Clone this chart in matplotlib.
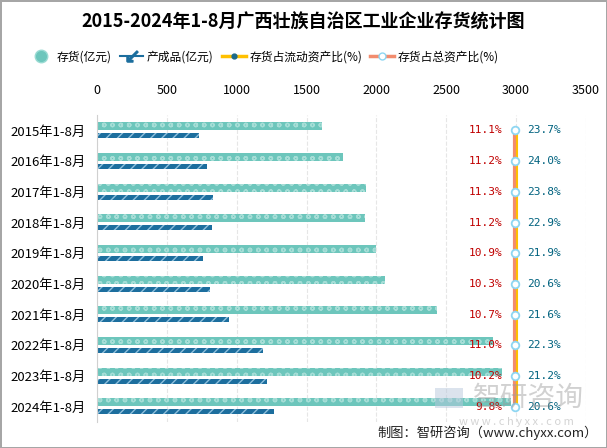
import numpy as np
import matplotlib.pyplot as plt
from matplotlib.lines import Line2D
from matplotlib.patches import Rectangle
import matplotlib.transforms as mtransforms

plt.rcParams['font.family'] = ['Noto Sans CJK SC', 'DejaVu Sans']

years = ['2015年1-8月', '2016年1-8月', '2017年1-8月', '2018年1-8月', '2019年1-8月',
         '2020年1-8月', '2021年1-8月', '2022年1-8月', '2023年1-8月', '2024年1-8月']
inventory = [1614, 1764, 1929, 1921, 2000, 2064, 2436, 2836, 2900, 2964]
finished = [729, 786, 829, 821, 757, 807, 943, 1186, 1214, 1264]
pct_current = [11.1, 11.2, 11.3, 11.2, 10.9, 10.3, 10.7, 11.0, 10.2, 9.8]
pct_total = [23.7, 24.0, 23.8, 22.9, 21.9, 20.6, 21.6, 22.3, 21.2, 20.6]

c_inv = '#6DC6BC'
c_fin = '#1C6E9E'
c_cur = '#FFC000'
c_tot = '#F28C6E'

fig = plt.figure(figsize=(6.07, 4.48), dpi=100)
fig.patch.set_edgecolor('#A6A6A6')
fig.patch.set_linewidth(2)
ax = fig.add_axes([0.16, 0.058, 0.805, 0.685])

y = np.arange(len(years))
ax.barh(y - 0.14, inventory, height=0.26, color=c_inv, edgecolor='#A5DDD6',
        hatch='oo', linewidth=0)
ax.barh(y + 0.17, finished, height=0.16, color=c_fin, edgecolor='#8FC0DD',
        hatch='///', linewidth=0)

ax.set_xlim(0, 3500)
ax.set_ylim(9.5, -0.5)
ax.set_xticks(np.arange(0, 3501, 500))
ax.xaxis.tick_top()
ax.tick_params(axis='x', length=0, labelsize=9, pad=13)
ax.tick_params(axis='y', length=0, labelsize=9.5, pad=8)
ax.set_yticks(y)
ax.set_yticklabels(years)
ax.grid(axis='x', color='#E6E6E6', linestyle='--', linewidth=0.8)
ax.set_axisbelow(True)
for s in ['top', 'right', 'bottom']:
    ax.spines[s].set_visible(False)
ax.spines['left'].set_color('#D0D0D0')

# percentage lines sit at a fixed horizontal position
trans = mtransforms.blended_transform_factory(ax.transAxes, ax.transData)
xl = 0.855
ax.plot([xl] * len(y), y, color=c_tot, lw=3, transform=trans, zorder=3)
ax.plot([xl + 0.004] * len(y), y, color=c_cur, lw=1.5, transform=trans, zorder=3)
ax.plot([xl + 0.002] * len(y), y, 'o', ms=3, color='#1C6A8A', transform=trans, zorder=4)
ax.plot([xl] * len(y), y, 'o', ms=5.5, mfc='white', mec='#8ED6F2', mew=1.3,
        transform=trans, zorder=5)
for i in range(len(y)):
    ax.text(xl - 0.025, y[i], f'{pct_current[i]:.1f}%', transform=trans,
            ha='right', va='center', fontsize=8, color='#C00000',
            family='DejaVu Sans Mono', zorder=6)
    ax.text(xl + 0.025, y[i], f'{pct_total[i]:.1f}%', transform=trans,
            ha='left', va='center', fontsize=8, color='#00627F',
            family='DejaVu Sans Mono', zorder=6)

fig.text(0.5, 0.95, '2015-2024年1-8月广西壮族自治区工业企业存货统计图',
         ha='center', va='center', fontsize=13, fontweight='bold')

handles = [
    Line2D([], [], marker='o', ms=9, color=c_inv, lw=0, markeredgecolor='#9ADBD3'),
    Line2D([], [], marker='$\\swarrow$', ms=8, color=c_fin, lw=1.5),
    Line2D([], [], marker='o', ms=3.5, color=c_cur, mfc='#1C6A8A', mec='#1C6A8A', lw=2.5),
    Line2D([], [], marker='o', ms=5, color=c_tot, mfc='white', mec='#8ED6F2', lw=2.5),
]
labels = ['存货(亿元)', '产成品(亿元)', '存货占流动资产比(%)', '存货占总资产比(%)']
fig.legend(handles, labels, loc='center', bbox_to_anchor=(0.435, 0.873), ncol=4,
           frameon=False, fontsize=8.5, handlelength=2.0, columnspacing=0.7,
           handletextpad=0.3)

# watermark
fig.patches.append(Rectangle((0.717, 0.09), 0.045, 0.045, transform=fig.transFigure,
                             facecolor='#B8C8DC', alpha=0.5, edgecolor='none'))
fig.text(0.87, 0.112, '智研咨询', ha='center', va='center', fontsize=20,
         color='#9A9A9A', alpha=0.45)
fig.text(0.85, 0.058, 'w w w . c h y x x . c o m', ha='center', va='center',
         fontsize=8, color='#A0A0A0', alpha=0.45)
fig.text(0.985, 0.033, '制图：智研咨询（www.chyxx.com）', ha='right', va='center',
         fontsize=9.5, color='#222222')

fig.savefig('out.png', dpi=100, edgecolor=fig.get_edgecolor())
